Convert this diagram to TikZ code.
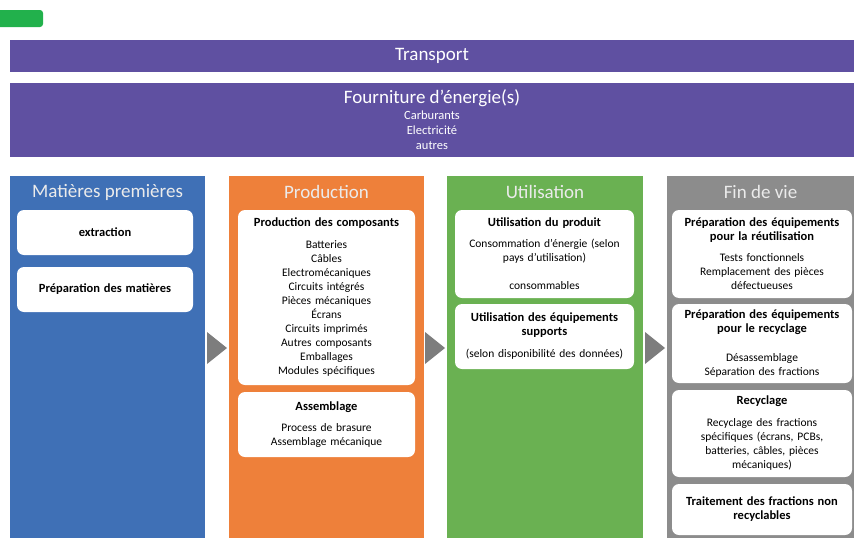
\documentclass[tikz,border=0pt]{standalone}
\usepackage{fontspec}
\setmainfont{Carlito}

% Couleurs
\definecolor{bandeau}{RGB}{95,80,161}
\definecolor{bleuMP}{RGB}{63,112,182}
\definecolor{orangePR}{RGB}{238,128,58}
\definecolor{vertUT}{RGB}{106,177,82}
\definecolor{grisFV}{RGB}{140,140,140}
\definecolor{flecheGris}{RGB}{125,125,125}
\definecolor{vertTab}{RGB}{34,177,76}

% Titre en gras d'une carte
\newcommand{\tcarte}[1]{{\fontsize{12.5}{14}\selectfont\bfseries #1}}

\begin{document}
\begin{tikzpicture}[x=1pt,y=-1pt,
    bande/.style={fill=bandeau, text=white, minimum width=844pt, inner sep=0pt},
    colonne/.style={fill=#1, minimum height=362pt, inner sep=0pt},
    titrecol/.style={text=white!92!black, font=\fontsize{19}{22}\selectfont},
    carte/.style={fill=white, rounded corners=7pt, align=center, inner sep=2pt,
        font=\fontsize{11.5}{14}\selectfont}]
    \useasboundingbox (0,0) rectangle (854,538);

    % Onglet
    \node[fill=vertTab, rounded corners=3pt, minimum width=48pt, minimum height=17pt,
        inner sep=0pt] (onglet) at (19,18.5) {};

    % Bandeaux
    \node[bande, minimum height=32pt, font=\fontsize{19}{22}\selectfont]
        (transport) at (432,56) {Transport};
    \node[bande, minimum height=74pt, align=center, text width=300pt,
        font=\fontsize{12.5}{15}\selectfont] (energie) at (432,120)
        {{\fontsize{19}{22}\selectfont Fourniture d’énergie(s)}\\[1pt]
         Carburants\\ Electricité\\ autres};

    % Colonnes
    \node[colonne=bleuMP, minimum width=195pt] (mp) at (107.5,357) {};
    \node[colonne=orangePR, minimum width=195pt] (prod) at (326.5,357) {};
    \node[colonne=vertUT, minimum width=196pt] (util) at (545,357) {};
    \node[colonne=grisFV, minimum width=187pt] (fdv) at (760.5,357) {};

    \node[titrecol] (mp-titre) at (107.5,192) {Matières premières};
    \node[titrecol] (prod-titre) at (326.5,192) {Production};
    \node[titrecol] (util-titre) at (545,192) {Utilisation};
    \node[titrecol] (fdv-titre) at (760.5,192) {Fin de vie};

    % Flèches
    \foreach \x in {207,425,645}
        \fill[flecheGris] (\x,332) -- ++(20,16) -- ++(-20,16) -- cycle;

    % Matières premières
    \node[carte, minimum width=176pt, minimum height=45pt, text width=168pt]
        (mp1) at (105,232.5) {\tcarte{extraction}};
    \node[carte, minimum width=176pt, minimum height=45pt, text width=168pt]
        (mp2) at (105,289.5) {\tcarte{Préparation des matières}};

    % Production
    \node[carte, minimum width=177pt, minimum height=175pt, text width=169pt]
        (pr1) at (326.5,297.5) {\tcarte{Production des composants}\\[8pt]
        Batteries\\ Câbles\\ Electromécaniques\\ Circuits intégrés\\
        Pièces mécaniques\\ Écrans\\ Circuits imprimés\\ Autres composants\\
        Emballages\\ Modules spécifiques};
    \node[carte, minimum width=177pt, minimum height=65pt, text width=169pt]
        (pr2) at (326.5,424.5) {\tcarte{Assemblage}\\[7pt]
        Process de brasure\\ Assemblage mécanique};

    % Utilisation
    \node[carte, minimum width=179pt, minimum height=88pt, text width=171pt]
        (ut1) at (544.5,254) {\tcarte{Utilisation du produit}\\[7pt]
        Consommation d’énergie (selon\\ pays d’utilisation)\\[14pt]
        consommables};
    \node[carte, minimum width=179pt, minimum height=65pt, text width=171pt]
        (ut2) at (544.5,336.5) {\tcarte{Utilisation des équipements}\\
        \tcarte{supports}\\[8pt] (selon disponibilité des données)};

    % Fin de vie
    \node[carte, minimum width=180pt, minimum height=88pt, text width=172pt]
        (fv1) at (762,254) {\tcarte{Préparation des équipements}\\
        \tcarte{pour la réutilisation}\\[7pt] Tests fonctionnels\\
        Remplacement des pièces\\ défectueuses};
    \node[carte, minimum width=180pt, minimum height=79pt, text width=172pt]
        (fv2) at (762,343.5) {\tcarte{Préparation des équipements}\\
        \tcarte{pour le recyclage}\\[15pt] Désassemblage\\
        Séparation des fractions};
    \node[carte, minimum width=180pt, minimum height=87pt, text width=172pt]
        (fv3) at (762,433.5) {\tcarte{Recyclage}\\[8pt] Recyclage des fractions\\
        spécifiques (écrans, PCBs,\\ batteries, câbles, pièces\\ mécaniques)};
    \node[carte, minimum width=180pt, minimum height=51pt, text width=172pt]
        (fv4) at (762,509.5) {\tcarte{Traitement des fractions non}\\
        \tcarte{recyclables}};
\end{tikzpicture}
\end{document}
